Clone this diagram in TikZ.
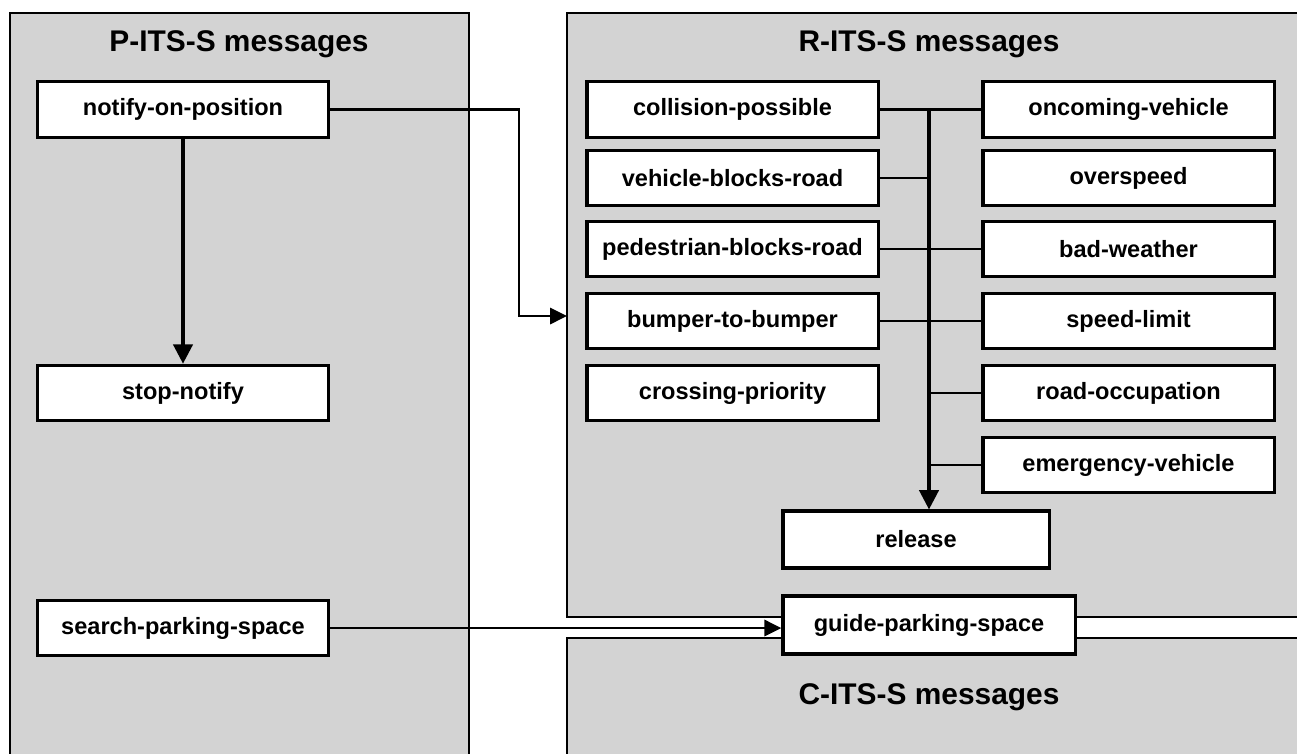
\documentclass[tikz,border=0pt]{standalone}
\usepackage{fontspec}
\setmainfont{Liberation Sans}
\usetikzlibrary{arrows.meta}
\definecolor{panelgray}{HTML}{D3D3D3}
\tikzset{
  panel/.style={draw=black, line width=0.75pt, fill=panelgray},
  msg/.style={draw=black, line width=0.9pt, fill=white, minimum width=2.9cm, minimum height=0.555cm, inner sep=0pt, font=\bfseries\fontsize{6.7}{8}\selectfont},
  ptitle/.style={font=\bfseries\fontsize{8.5}{10}\selectfont, inner sep=0pt},
  conn/.style={draw=black, line width=0.7pt},
  arr/.style={conn, -{Triangle[length=4.8pt,width=4.6pt]}},
  bus/.style={draw=black, line width=0.95pt, -{Triangle[length=5.5pt,width=5.5pt]}}
}
\begin{document}
\begin{tikzpicture}[x=0.01cm, y=-0.01cm]
\clip (0,0) rectangle (1297,753);
\fill[white] (0,0) rectangle (1297,753);
% panels
\draw[panel] (10,13) rectangle (469,800);
\draw[panel] (567,13) rectangle (1340,617);
\draw[panel] (567,638) rectangle (1340,800);
\node[ptitle] (ptitle) at (239,44) {P-ITS-S messages};
\node[ptitle] (rtitle) at (929,44) {R-ITS-S messages};
\node[ptitle] (ctitle) at (929,697) {C-ITS-S messages};
% P nodes
\node[msg] (notify) at (183,109.5) {notify-on-position};
\node[msg] (stop) at (183,393) {stop-notify};
\node[msg] (search) at (183,628) {search-parking-space};
% R left column
\node[msg, minimum width=2.91cm] (collision) at (732.5,109.5) {collision-possible};
\node[msg, minimum width=2.91cm] (vehicle) at (732.5,178) {vehicle-blocks-road};
\node[msg, minimum width=2.91cm] (ped) at (732.5,249) {pedestrian-blocks-road};
\node[msg, minimum width=2.91cm] (bumper) at (732.5,321) {bumper-to-bumper};
\node[msg, minimum width=2.91cm] (crossing) at (732.5,393) {crossing-priority};
% R right column
\node[msg, minimum width=2.91cm] (oncoming) at (1128.5,109.5) {oncoming-vehicle};
\node[msg, minimum width=2.91cm] (overspeed) at (1128.5,178) {overspeed};
\node[msg, minimum width=2.91cm] (bad) at (1128.5,249) {bad-weather};
\node[msg, minimum width=2.91cm] (speed) at (1128.5,321) {speed-limit};
\node[msg, minimum width=2.91cm] (roadocc) at (1128.5,393) {road-occupation};
\node[msg, minimum width=2.91cm] (emerg) at (1128.5,465) {emergency-vehicle};
% release and guide
\node[msg, minimum width=2.66cm, minimum height=0.57cm] (release) at (916,539.5) {release};
\node[msg, minimum width=2.92cm, minimum height=0.58cm] (guide) at (929,625) {guide-parking-space};
% coordinates
\coordinate (bustop) at (929,109.5);
\coordinate (bend) at (519,316);
\coordinate (rin) at (567,316);
% connectors
\draw[bus] (notify) -- (stop);
\draw[arr] (notify.east) -| (bend) -- (rin);
\draw[arr] (search.east) -- (search.east -| guide.west);
\draw[conn] (collision.east) -- (oncoming.west);
\draw[conn] (vehicle.east) -- (vehicle.east -| bustop);
\draw[conn] (ped.east) -- (bad.west);
\draw[conn] (bumper.east) -- (speed.west);
\draw[conn] (roadocc.west) -- (roadocc.west -| bustop);
\draw[conn] (emerg.west) -- (emerg.west -| bustop);
\draw[bus] (bustop) -- (release.north -| bustop);
\end{tikzpicture}
\end{document}
